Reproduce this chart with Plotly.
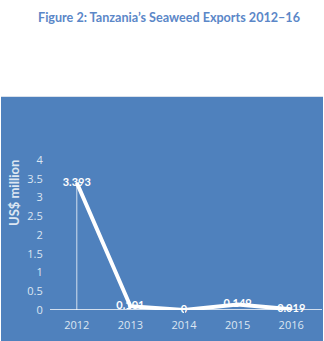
import plotly.graph_objects as go

years = ["2012", "2013", "2014", "2015", "2016"]
exports = [3.393, 0.101, 0, 0.149, 0.019]
labels = ["3.393", "0.101", "0", "0.149", "0.019"]
y_ticks = [0, 0.5, 1, 1.5, 2, 2.5, 3, 3.5, 4]

BLUE = "#4F81BD"
TICK = "#DCE6F2"

W, H = 324, 341
L, R, T, B = 50, 6, 160, 31
pw = W - L - R
ph = H - T - B

fig = go.Figure()

# drop line from first point
fig.add_trace(go.Scatter(
    x=[years[0], years[0]], y=[0, exports[0]], mode="lines",
    line=dict(color="rgba(255,255,255,0.75)", width=1),
    hoverinfo="skip", showlegend=False, cliponaxis=False))

fig.add_trace(go.Scatter(
    x=years, y=exports, mode="lines+text",
    line=dict(color="white", width=4),
    text=labels, textposition="middle center",
    textfont=dict(family="Lato", size=11, color="white", weight="bold"),
    showlegend=False, cliponaxis=False))

def px_x(p):
    return (p - L) / pw

def px_y(p):
    return (H - B - p) / ph

fig.add_shape(type="rect", xref="paper", yref="paper",
              x0=px_x(1), x1=px_x(323), y0=px_y(341), y1=px_y(97),
              fillcolor=BLUE, line=dict(width=0), layer="below")
fig.add_shape(type="line", xref="paper", yref="paper",
              x0=px_x(1), x1=px_x(323), y0=px_y(96.5), y1=px_y(96.5),
              line=dict(color="#D9E1EC", width=1), layer="below")
fig.add_shape(type="line", xref="paper", yref="y",
              x0=0, x1=px_x(322), y0=0, y1=0,
              line=dict(color="white", width=1.5), layer="below")

fig.add_annotation(text="US$ million", xref="paper", yref="paper",
                   x=px_x(14), y=px_y(193), textangle=-90, showarrow=False,
                   xanchor="center", yanchor="middle",
                   font=dict(family="Lato", size=13, color=TICK, weight="bold"))

fig.update_layout(
    width=W, height=H,
    margin=dict(l=L, r=R, t=T, b=B),
    paper_bgcolor="white", plot_bgcolor=BLUE,
    title=dict(text="Figure 2: Tanzania\u2019s Seaweed Exports 2012\u201316",
               x=169 / W, xanchor="center", y=1 - 18 / H, yanchor="middle",
               xref="container", yref="container",
               font=dict(family="Lato", size=12.6, color="#5B87C8", weight="bold")),
    xaxis=dict(type="category", showgrid=False, zeroline=False, showline=False,
               ticks="outside", ticklen=5, tickcolor=BLUE,
               tickfont=dict(family="Open Sans", size=11, color=TICK),
               range=[-0.5, 4.5], fixedrange=True),
    yaxis=dict(range=[0, 4], tickvals=y_ticks, showgrid=False, zeroline=False,
               showline=False, ticks="outside", ticklen=4, tickcolor=BLUE,
               tickfont=dict(family="Open Sans", size=11, color=TICK),
               fixedrange=True),
)

fig.write_html("out.html")
